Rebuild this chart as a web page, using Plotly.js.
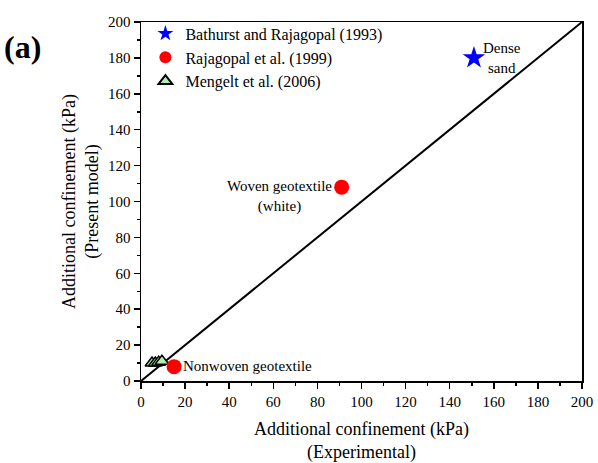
<!DOCTYPE html>
<html><head><meta charset="utf-8">
<script src="https://cdn.plot.ly/plotly-3.0.1.min.js"></script>
<style>body{margin:0;background:#fff}#g{width:598px;height:463px}</style>
</head><body><div id="g"></div>
<script>
const bathurstX = [151];
const bathurstY = [180];
const rajagopalX = [91, 15];
const rajagopalY = [108, 8];
const mengeltX = [5, 6.5, 8, 9.5];
const mengeltY = [10, 10, 10.5, 11];
const lineX = [0, 200];
const lineY = [0, 200];
const xTickVals = [0,20,40,60,80,100,120,140,160,180,200];

const F = "Liberation Serif";
const traces = [
  {x: lineX, y: lineY, mode: 'lines', line: {color: '#000', width: 2}, showlegend: false, hoverinfo: 'skip'},
  {x: mengeltX, y: mengeltY, mode: 'markers', name: 'Mengelt et al. (2006)',
   marker: {symbol: 'triangle-up', size: 12, color: '#b2f0b2', line: {color: '#000', width: 1.5}}},
  {x: rajagopalX, y: rajagopalY, mode: 'markers', name: 'Rajagopal et al. (1999)',
   marker: {symbol: 'circle', size: 15, color: '#ff0000', line: {width: 0}}},
  {x: bathurstX, y: bathurstY, mode: 'markers', name: 'Bathurst and Rajagopal (1993)',
   marker: {symbol: 'star', size: 17, color: '#0000ff', line: {width: 0}}}
];
const axCommon = {
  range: [0, 200], tickvals: xTickVals, ticks: 'outside', ticklen: 6, tickwidth: 1.5,
  tickcolor: '#000', showline: true, linecolor: '#000', linewidth: 1.5, mirror: true,
  showgrid: false, zeroline: false, tickfont: {family: F, size: 15, color: '#000'},
  minor: {dtick: 10, ticks: 'outside', ticklen: 3, tickwidth: 1.5, tickcolor: '#000', showgrid: false}
};
const layout = {
  width: 598, height: 463,
  margin: {l: 141, r: 16, t: 22, b: 82},
  paper_bgcolor: '#fff', plot_bgcolor: '#fff',
  font: {family: F, color: '#000'},
  xaxis: Object.assign({}, axCommon, {
    title: {text: 'Additional confinement (kPa)<br>(Experimental)', font: {family: F, size: 18}, standoff: 14}
  }),
  yaxis: Object.assign({}, axCommon, {
    title: {text: 'Additional confinement (kPa)<br>(Present model)', font: {family: F, size: 18}, standoff: 4}
  }),
  legend: {x: 0.01, y: 1.015, xanchor: 'left', yanchor: 'top', traceorder: 'reversed',
    font: {family: F, size: 16, color: '#000'}, bgcolor: 'rgba(0,0,0,0)', itemsizing: 'constant', tracegroupgap: 0},
  showlegend: true,
  annotations: [
    {xref: 'paper', yref: 'paper', x: -0.315, y: 0.93, xanchor: 'left', yanchor: 'middle',
     text: '<b>(a)</b>', showarrow: false, font: {family: F, size: 32, color: '#000'}},
    {x: 154, y: 180, xanchor: 'left', yanchor: 'middle', align: 'center', text: 'Dense<br>sand',
     showarrow: false, font: {family: F, size: 15}},
    {x: 87.5, y: 103, xanchor: 'right', yanchor: 'middle', align: 'center', text: 'Woven geotextile<br>(white)',
     showarrow: false, font: {family: F, size: 15}},
    {x: 18, y: 8.5, xanchor: 'left', yanchor: 'middle', text: 'Nonwoven geotextile',
     showarrow: false, font: {family: F, size: 15}}
  ]
};
Plotly.newPlot('g', traces, layout, {displayModeBar: false, staticPlot: true});
</script></body></html>
